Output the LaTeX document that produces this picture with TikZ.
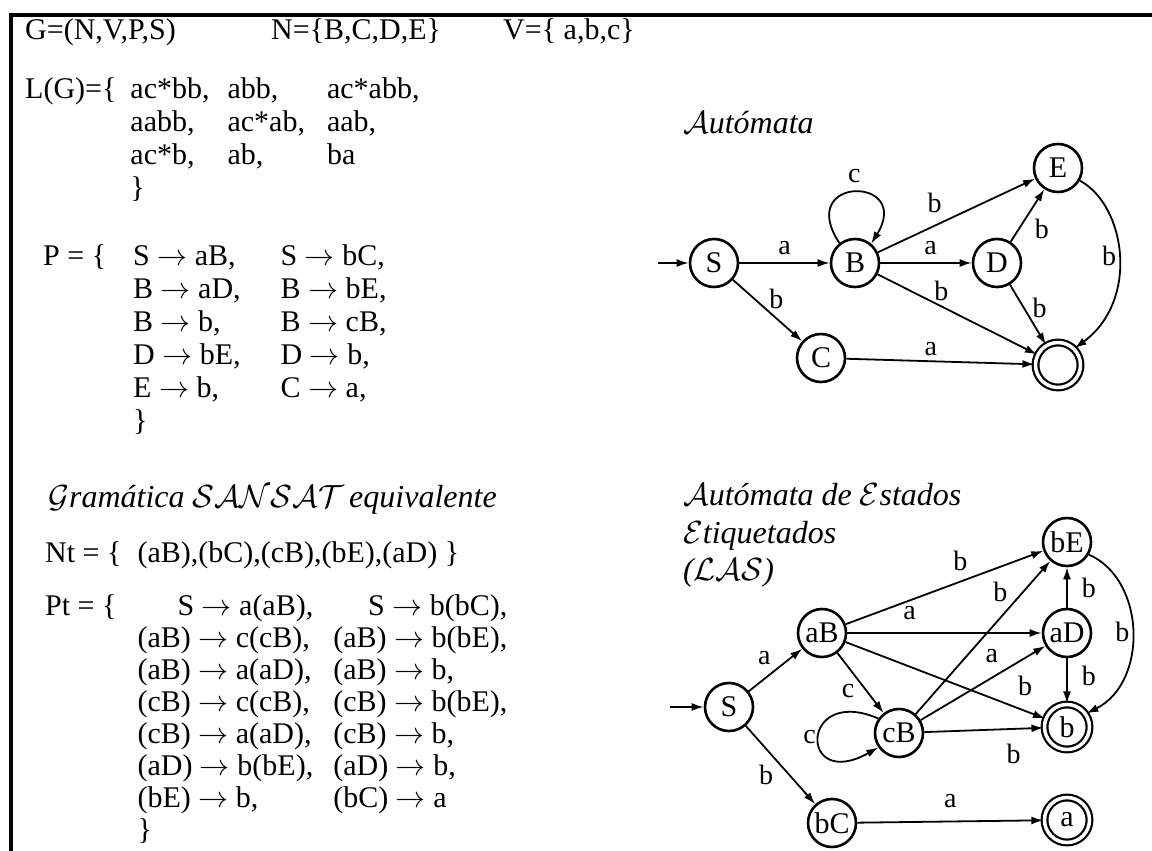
\documentclass[tikz,border=0pt]{standalone}
\usepackage{fix-cm}
\usepackage{fontspec}
\setmainfont{Liberation Serif}
\usepackage{tikz}
\usetikzlibrary{arrows.meta}

\begin{document}
\begin{tikzpicture}[
  x=1pt, y=-1pt,
  % Node styles
  state/.style={
    circle,
    draw=black,
    line width=2.6pt,
    minimum size=48pt,
    inner sep=0pt,
    font=\fontsize{30}{30}\selectfont,
  },
  accept/.style={
    state,
    double,
    double distance=3.5pt,
    line width=2.2pt,
    minimum size=45pt,
  },
  arr/.style={
    -{Latex[length=12pt,width=8pt]},
    line width=1.8pt,
  },
  lbl/.style={
    font=\fontsize{28}{28}\selectfont,
    inner sep=1pt,
  },
  txt/.style={
    anchor=base west,
    inner sep=0pt,
    font=\fontsize{30}{33}\selectfont,
  },
  ttl/.style={
    anchor=base west,
    inner sep=0pt,
    font=\fontsize{32}{38}\selectfont\itshape,
  },
  frame/.style={
    line width=4pt,
  },
]
\useasboundingbox (0,0) rectangle (1152,851);

% ── Frame ──
\draw[frame] (1152,15) -- (10.5,15) -- (10.5,851);

% ── Grammar ──
\node[txt] (gdef) at (25,40) {G=(N,V,P,S)};
\node[txt] (nset) at (271,40) {N=\{B,C,D,E\}};
\node[txt] (vset) at (503,40) {V=\{ a,b,c\}};

\node[txt] (lang) at (25,99) {L(G)=\{\hspace{14pt}%
  \begin{tabular}[t]{@{}l@{\hspace{18pt}}l@{\hspace{22pt}}l@{}}
    ac*bb, & abb,   & ac*abb, \\
    aabb,  & ac*ab, & aab,    \\
    ac*b,  & ab,    & ba      \\
    \}
  \end{tabular}};

\node[txt] (prods) at (43,265) {P = \{\hspace{27pt}%
  \begin{tabular}[t]{@{}l@{\hspace{40pt}}l@{}}
    S $\rightarrow$ aB, & S $\rightarrow$ bC, \\
    B $\rightarrow$ aD, & B $\rightarrow$ bE, \\
    B $\rightarrow$ b,  & B $\rightarrow$ cB, \\
    D $\rightarrow$ bE, & D $\rightarrow$ b,  \\
    E $\rightarrow$ b,  & C $\rightarrow$ a,  \\
    \}
  \end{tabular}};

% ── Equivalent SANSAT grammar ──
\node[ttl] (sansat) at (48,507) {$\mathcal{G}$ramática $\mathcal{SANSAT}$\,equivalente};

\node[txt] (nterm) at (45,562) {Nt = \{\hspace{16pt}(aB),(bC),(cB),(bE),(aD)\ \}};

\node[txt, font=\fontsize{30}{32}\selectfont] (tprods) at (45,615) {Pt = \{\hspace{21pt}%
  \begin{tabular}[t]{@{}l@{\hspace{20pt}}l@{}}
    \hfill S $\rightarrow$ a(aB),    & \hfill S $\rightarrow$ b(bC), \\
    (aB) $\rightarrow$ c(cB),        & (aB) $\rightarrow$ b(bE),      \\
    (aB) $\rightarrow$ a(aD),        & (aB) $\rightarrow$ b,          \\
    (cB) $\rightarrow$ c(cB),        & (cB) $\rightarrow$ b(bE),      \\
    (cB) $\rightarrow$ a(aD),        & (cB) $\rightarrow$ b,          \\
    (aD) $\rightarrow$ b(bE),        & (aD) $\rightarrow$ b,          \\
    (bE) $\rightarrow$ b,            & (bC) $\rightarrow$ a           \\
    \}
  \end{tabular}};

% ── Automaton ──
\node[ttl] (auto) at (683,133) {$\mathcal{A}$utómata};

\node[state] (S) at (714,263) {S};
\node[state] (B) at (855,263) {B};
\node[state] (D) at (997,263) {D};
\node[state] (E) at (1058,168) {E};
\node[state] (C) at (821,358) {C};
\node[accept] (F) at (1058,365) {};
\coordinate (s0) at (658,263);

\draw[arr] (s0) -- (S);
\draw[arr] (S) -- (B) node[lbl, midway, above=6pt] {a};
\draw[arr] (S) -- (C) node[lbl, midway, above right] {b};
\draw[arr] (B.128) .. controls +(-45,-68) and +(42,-68) .. (B.50)
  node[lbl, pos=0.5, above=8pt] {c};
\draw[arr] (B) -- (E) node[lbl, pos=0.45, above left=5pt] {b};
\draw[arr] (B) -- (D) node[lbl, pos=0.55, above=6pt] {a};
\draw[arr] (B) -- (F) node[lbl, pos=0.4, above=4pt] {b};
\draw[arr] (D) -- (E) node[lbl, pos=0.25, right=14pt] {b};
\draw[arr] (D) -- (F) node[lbl, pos=0.38, right=7pt] {b};
\draw[arr] (E.-30) .. controls +(46,25) and +(65,-48) .. (F.45)
  node[lbl, pos=0.5, left=1pt] {b};
\draw[arr] (C) -- (F) node[lbl, pos=0.45, above=4pt] {a};

% ── Labelled-state automaton ──
\node[ttl] (las1) at (683,505) {$\mathcal{A}$utómata de $\mathcal{E}$stados};
\node[ttl] (las2) at (683,543) {$\mathcal{E}$tiquetados};
\node[ttl] (las3) at (683,580) {($\mathcal{LAS}$)};

\node[state] (S2) at (729,707) {S};
\node[state] (aB) at (822,633) {aB};
\node[state] (cB) at (899,733) {cB};
\node[state] (bC) at (832,823) {bC};
\node[state] (aD) at (1067,633) {aD};
\node[state] (bE) at (1067,542) {bE};
\node[accept] (bF) at (1067,727) {b};
\node[accept] (aF) at (1067,820) {a};
\coordinate (s1) at (670,707);

\draw[arr] (s1) -- (S2);
\draw[arr] (S2) -- (aB) node[lbl, midway, above left=3pt] {a};
\draw[arr] (S2) -- (bC) node[lbl, pos=0.45, below left=2pt] {b};
\draw[arr] (aB) -- (cB) node[lbl, pos=0.45, below left=2pt] {c};
\draw[arr] (cB.145) .. controls +(-79,-34) and +(-80,45) .. (cB.-145)
  node[lbl, pos=0.5, left=1pt] {c};
\draw[arr] (aB) -- (aD) node[lbl, pos=0.32, above=11pt] {a};
\draw[arr] (aB) -- (bE) node[lbl, pos=0.58, above=9pt] {b};
\draw[arr] (aB) -- (bF) node[lbl, pos=0.9, above=13pt] {b};
\draw[arr] (cB) -- (bE) node[lbl, pos=0.8, left=14pt] {b};
\draw[arr] (cB) -- (aD) node[lbl, pos=0.57, above=13pt] {a};
\draw[arr] (cB) -- (bF) node[lbl, pos=0.75, below=13pt] {b};
\draw[arr] (aD) -- (bE) node[lbl, midway, right=13pt] {b};
\draw[arr] (aD) -- (bF) node[lbl, pos=0.4, right=13pt] {b};
\draw[arr] (bE.-30) .. controls +(57,25) and +(62,-31) .. (bF.35)
  node[lbl, pos=0.5, left=1pt] {b};
\draw[arr] (bC) -- (aF) node[lbl, midway, above=12pt] {a};

\end{tikzpicture}
\end{document}
